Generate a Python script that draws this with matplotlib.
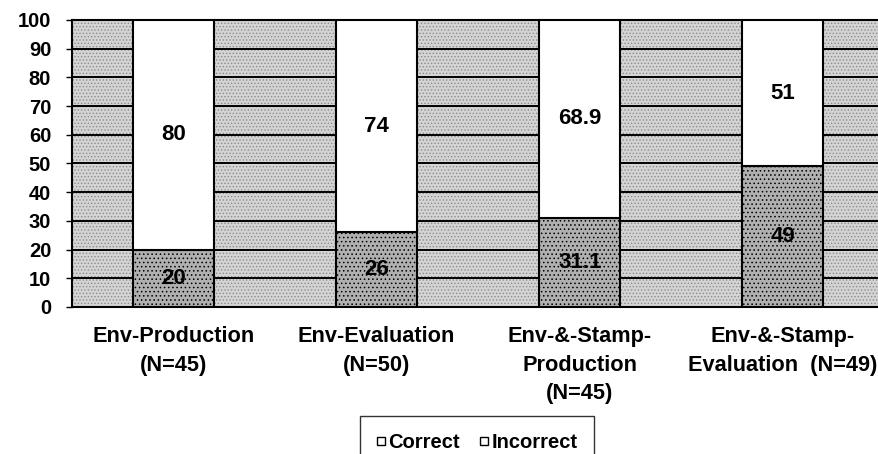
import numpy as np
import matplotlib
matplotlib.use('Agg')
import matplotlib.pyplot as plt
from matplotlib.lines import Line2D

plt.rcParams['font.family'] = ['Liberation Sans', 'DejaVu Sans']
plt.rcParams['font.weight'] = 'bold'
plt.rcParams['hatch.linewidth'] = 0.6

# data
categories = ['Env-Production\n(N=45)', 'Env-Evaluation\n(N=50)',
              'Env-&-Stamp-\nProduction\n(N=45)', 'Env-&-Stamp-\nEvaluation  (N=49)']
correct = [20, 26, 31.1, 49]
incorrect = [80, 74, 68.9, 51]
correct_labels = ['20', '26', '31.1', '49']
incorrect_labels = ['80', '74', '68.9', '51']

fig = plt.figure(figsize=(8.79, 4.54), dpi=100)
ax = fig.add_axes([0.082, 0.324, 0.924, 0.632])

# stippled grey plot area
ax.patch.set_facecolor('#d4d4d4')
ax.patch.set_hatch('.....')
ax.patch.set_edgecolor('#8c8c8c')

x = np.arange(len(categories))
w = 0.40

# horizontal grid lines behind the bars
for yv in range(10, 100, 10):
    ax.axhline(yv, color='black', lw=1.4, zorder=1)

b1 = ax.bar(x, correct, w, color='#b0b0b0', edgecolor='black', lw=1.5,
            hatch='....', zorder=3, label='Correct')
b2 = ax.bar(x, incorrect, w, bottom=correct, color='white', edgecolor='black',
            lw=1.5, zorder=3, label='Incorrect')

for i in range(len(categories)):
    ax.text(x[i], correct[i] / 2, correct_labels[i], ha='center', va='center',
            fontsize=16, fontweight='bold', zorder=5)
    ax.text(x[i], correct[i] + incorrect[i] / 2, incorrect_labels[i], ha='center',
            va='center', fontsize=16, fontweight='bold', zorder=5)

ax.set_xlim(-0.5, 3.5)
ax.set_ylim(0, 100)
ax.set_yticks(range(0, 101, 10))
ax.set_yticklabels([str(v) for v in range(0, 101, 10)], fontsize=14.5, fontweight='bold')
ax.tick_params(axis='y', direction='out', length=4, width=1, pad=11)
ax.set_xticks(x)
ax.set_xticklabels(categories, fontsize=15.7, fontweight='bold', linespacing=1.45)
ax.tick_params(axis='x', length=0, pad=14)

for s in ['top', 'left', 'bottom']:
    ax.spines[s].set_linewidth(1.5)
    ax.spines[s].set_color('black')
ax.spines['right'].set_visible(False)

handles = [Line2D([], [], marker='s', ls='', markersize=5.5, markerfacecolor='white',
                  markeredgecolor='black', markeredgewidth=1),
           Line2D([], [], marker='s', ls='', markersize=5.5, markerfacecolor='white',
                  markeredgecolor='black', markeredgewidth=1)]
leg = fig.legend(handles, ['Correct', 'Incorrect'], loc='upper center',
                 bbox_to_anchor=(0.543, 0.084), ncol=2, borderaxespad=0,
                 frameon=True, fancybox=False, handlelength=0.4,
                 handletextpad=0.15, columnspacing=1.0, borderpad=0.85,
                 prop={'weight': 'bold', 'size': 14.5})
leg.get_frame().set_edgecolor('black')
leg.get_frame().set_linewidth(1.0)

fig.savefig('out.png', dpi=100)
